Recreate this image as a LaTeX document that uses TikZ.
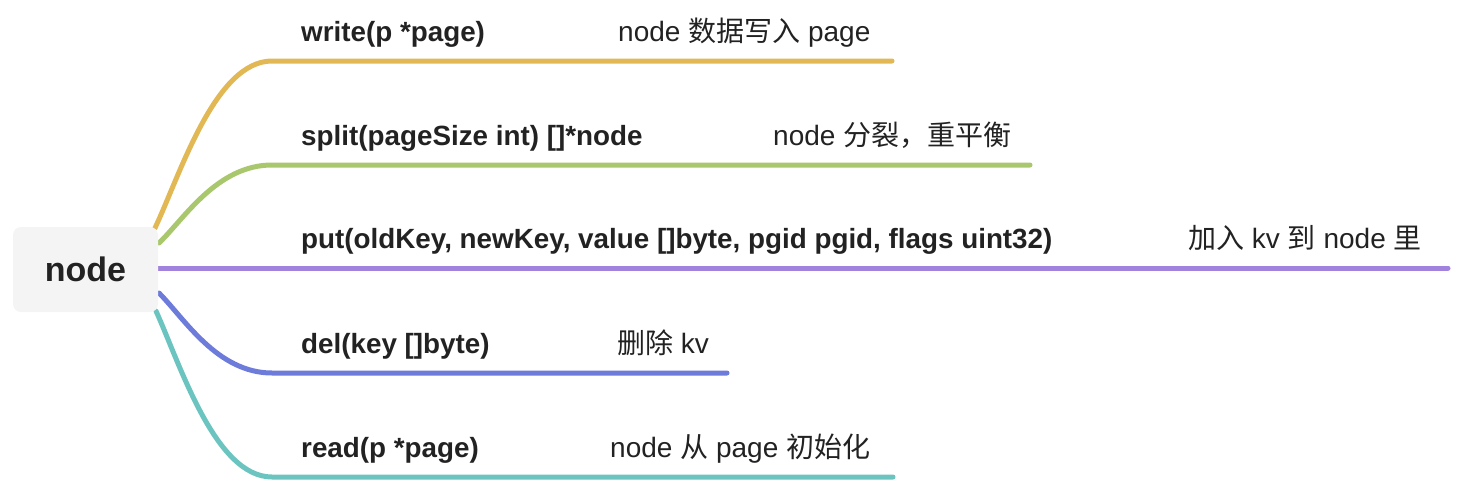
\documentclass[tikz,border=0pt]{standalone}
\usepackage{fontspec}
\setmainfont{Liberation Sans}
\newfontfamily\cjk{Noto Sans CJK SC}
\definecolor{txt}{HTML}{222222}
\definecolor{boxfill}{HTML}{F4F4F4}
\definecolor{cyellow}{HTML}{E2B854}
\definecolor{cgreen}{HTML}{A9C76D}
\definecolor{cpurple}{HTML}{A183DD}
\definecolor{cblue}{HTML}{6D7BDB}
\definecolor{cteal}{HTML}{6CC4C0}
\begin{document}
\begin{tikzpicture}[x=1pt,y=-1pt,
  branch/.style={line width=5pt, line cap=round},
  fn/.style={anchor=base west, inner sep=0pt, font=\fontsize{27.8}{30}\selectfont\bfseries, text=txt},
  desc/.style={anchor=base west, inner sep=0pt, font=\fontsize{28}{30}\selectfont, text=txt},
  rootbox/.style={fill=boxfill, rounded corners=8pt, minimum width=145pt, minimum height=85pt, inner sep=0pt, font=\fontsize{34}{38}\selectfont\bfseries, text=txt}]
\useasboundingbox (0,0) rectangle (1458,482);

% start and end coordinates of the branches
\coordinate (w0) at (155,228);
\coordinate (w1) at (892,61);
\coordinate (s0) at (159,243);
\coordinate (s1) at (1030,165);
\coordinate (p0) at (157,268);
\coordinate (p1) at (1448,268);
\coordinate (d0) at (159,293);
\coordinate (d1) at (727,373);
\coordinate (r0) at (156,311);
\coordinate (r1) at (893,477);

% branches
\draw[branch, cyellow] (w0) .. controls (180,175) and (215,61) .. (272,61) -- (w1);
\draw[branch, cgreen]  (s0) .. controls (184,219) and (217,165) .. (272,165) -- (s1);
\draw[branch, cpurple] (p0) -- (p1);
\draw[branch, cblue]   (d0) .. controls (184,318) and (217,373) .. (272,373) -- (d1);
\draw[branch, cteal]   (r0) .. controls (180,364) and (215,477) .. (272,477) -- (r1);

% root
\node[rootbox] (root) at (85.5,269.5) {node};

% labels
\node[fn] (wl) at (301,41) {write(p *page)};
\node[desc] (wd) at (618,41) {node {\cjk 数据写入} page};
\node[fn] (sl) at (301,145) {split(pageSize int) []*node};
\node[desc] (sd) at (773,145) {node {\cjk 分裂，重平衡}};
\node[fn] (pl) at (301,248) {put(oldKey, newKey, value []byte, pgid pgid, flags uint32)};
\node[desc] (pd) at (1188,248) {{\cjk 加入} kv {\cjk 到} node {\cjk 里}};
\node[fn] (dl) at (301,353) {del(key []byte)};
\node[desc] (dd) at (617,353) {{\cjk 删除} kv};
\node[fn] (rl) at (301,457) {read(p *page)};
\node[desc] (rd) at (610,457) {node {\cjk 从} page {\cjk 初始化}};
\end{tikzpicture}
\end{document}
